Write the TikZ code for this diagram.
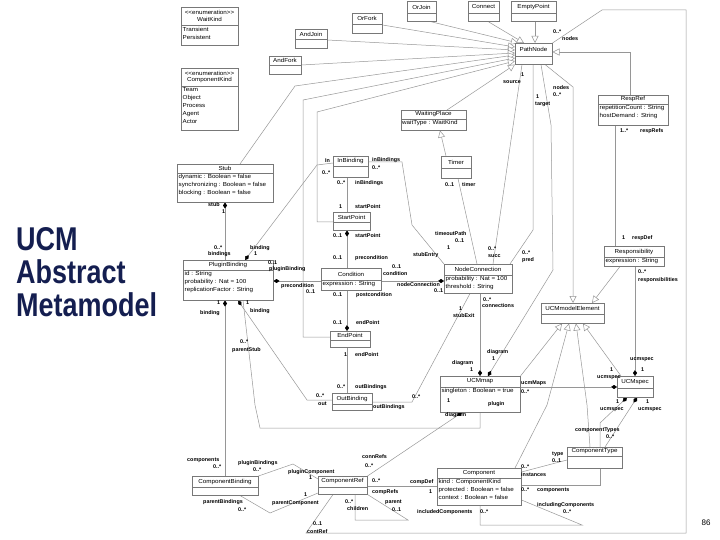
\documentclass[tikz,border=0pt]{standalone}
\usepackage{fontspec}
\setmainfont{Liberation Sans}
\newfontfamily\dfont[FakeStretch=1.08]{Liberation Sans}
\newfontfamily\lfont{Liberation Sans}
\usetikzlibrary{arrows.meta}
\definecolor{boxc}{RGB}{120,120,120}
\definecolor{linec}{RGB}{150,150,150}
\definecolor{titlec}{RGB}{20,30,80}
\pgfdeclarelayer{bg}
\pgfsetlayers{bg,main}
\tikzset{
 cbox/.style={draw=boxc, fill=white, line width=0.5pt, inner sep=0pt},
 cl/.style={draw=boxc, line width=0.5pt},
 hdr/.style={font=\dfont\fontsize{5.8}{6.6}\selectfont, inner sep=0pt, align=center},
 att/.style={font=\dfont\fontsize{5.8}{8}\selectfont, inner sep=0pt, align=left, anchor=north west},
 lbl/.style={font=\lfont\bfseries\fontsize{5.4}{6}\selectfont, inner sep=0pt, anchor=west},
 ttl/.style={font=\fontsize{27}{27}\selectfont\bfseries, text=titlec, anchor=base west, inner sep=0pt},
 con/.style={draw=linec, line width=0.5pt},
 gen/.style={con, -{Triangle[open, length=7pt, width=7pt, fill=white]}},
 comp/.style={con, {Diamond[length=6pt, width=4pt, fill=black, color=black]}-},
}
\newcounter{lbc}
\newcommand\lb[3]{\stepcounter{lbc}\node[lbl] (lb\arabic{lbc}) at (#1,#2) {#3};}
\newcommand\umlbox[7]{%
 \node[cbox, anchor=north west, minimum width={(#4-#2)*1pt}, minimum height={(#5-#3)*1pt}] (#1) at (#2,#3) {};
 \draw[cl] (#2,#6) -- (#4,#6);
 \node[hdr] (#1-h) at ({(#2+#4)/2},{(#3+#6)/2}) {#7};
}
\newcommand\attrs[4]{\node[att] (#1-a) at (#2,#3+0.8) {#4};}
\begin{document}
\begin{tikzpicture}[x=1pt,y=-1pt]
\useasboundingbox (0,0) rectangle (720,540);
% title
\node[ttl] (title1) at (16,250) {\scalebox{1}[1.22]{UCM}};
\node[ttl] (title2) at (16,283) {\scalebox{1}[1.22]{Abstract}};
\node[ttl] (title3) at (16,316) {\scalebox{1}[1.22]{Metamodel}};
\node[font=\fontsize{8}{9}\selectfont, inner sep=0pt] (pageno) at (706,523) {86};

% boxes
\umlbox{WaitKind}{181}{7}{238}{45}{25}{<<enumeration>>\\WaitKind}
\attrs{WaitKind}{182.5}{26}{Transient\\Persistent}
\umlbox{ComponentKind}{181}{68}{238}{130}{86}{<<enumeration>>\\ComponentKind}
\attrs{ComponentKind}{182.5}{86.5}{Team\\Object\\Process\\Agent\\Actor}
\umlbox{AndJoin}{295}{29}{327}{48}{39}{AndJoin}
\umlbox{AndFork}{269}{56}{301}{74}{65}{AndFork}
\umlbox{OrFork}{352}{13}{382}{33}{24}{OrFork}
\umlbox{OrJoin}{407}{1}{436}{21}{13}{OrJoin}
\umlbox{Connect}{468}{1}{499}{21}{13}{Connect}
\umlbox{EmptyPoint}{511}{1}{556}{21}{13}{EmptyPoint}
\umlbox{PathNode}{515}{43}{552}{64}{56}{PathNode}
\umlbox{WaitingPlace}{401}{110}{466}{130}{119}{WaitingPlace}
\attrs{WaitingPlace}{402}{119.5}{waitType : WaitKind}
\umlbox{Timer}{441}{156}{471}{178}{168}{Timer}
\umlbox{RespRef}{598}{95}{668}{125}{104}{RespRef}
\attrs{RespRef}{599.5}{104.5}{repetitionCount : String\\hostDemand : String}
\umlbox{Stub}{177}{164}{273}{202}{173}{Stub}
\attrs{Stub}{178.5}{173.5}{dynamic : Boolean = false\\synchronizing : Boolean = false\\blocking : Boolean = false}
\umlbox{InBinding}{333}{156}{368}{177}{166}{InBinding}
\umlbox{StartPoint}{333}{212}{370}{230}{222}{StartPoint}
\umlbox{PluginBinding}{183}{260}{273}{300}{270}{PluginBinding}
\attrs{PluginBinding}{184.5}{270.5}{id : String\\probability : Nat = 100\\replicationFactor : String}
\umlbox{Condition}{321}{268}{381}{290}{280}{Condition}
\attrs{Condition}{322.5}{280.5}{expression : String}
\umlbox{NodeConnection}{444}{264}{512}{293}{275}{NodeConnection}
\attrs{NodeConnection}{445.5}{275.5}{probability : Nat = 100\\threshold : String}
\umlbox{EndPoint}{330}{331}{370}{347}{340}{EndPoint}
\umlbox{UCMmodelElement}{541}{303}{604}{323}{314}{UCMmodelElement}
\umlbox{Responsibility}{604}{246}{664}{266}{257}{Responsibility}
\attrs{Responsibility}{605.5}{257}{expression : String}
\umlbox{OutBinding}{332}{393}{372}{410}{404}{OutBinding}
\umlbox{UCMmap}{440}{376}{520}{412}{387}{UCMmap}
\attrs{UCMmap}{441.5}{387}{singleton : Boolean = true}
\umlbox{UCMspec}{617}{376}{653}{397}{388}{UCMspec}
\umlbox{ComponentType}{567}{447}{622}{468}{456}{ComponentType}
\umlbox{Component}{437}{468}{521}{505}{478}{Component}
\attrs{Component}{438.5}{478}{kind : ComponentKind\\protected : Boolean = false\\context : Boolean = false}
\umlbox{ComponentRef}{318}{476}{367}{494}{487}{ComponentRef}
\umlbox{ComponentBinding}{192}{476}{258}{495}{487}{ComponentBinding}

\begin{pgfonlayer}{bg}
% generalizations to PathNode
\draw[gen] (OrJoin.south -| 430,0) -- (PathNode.north -| 518,0);
\draw[gen] (Connect.south -| 488,0) -- (PathNode.north -| 524,0);
\draw[gen] (EmptyPoint.south -| 535,0) -- (PathNode.north -| 535,0);
\draw[gen] (OrFork.east |- 0,25) -- (PathNode.west |- 0,47);
\draw[gen] (AndJoin.east |- 0,40) -- (PathNode.west |- 0,50);
\draw[gen] (AndFork.east |- 0,65) -- (PathNode.west |- 0,53);
\draw[gen] (Stub.north -| 240,0) -- (295,86) -- (PathNode.west |- 0,55);
\draw[gen] (EndPoint.west |- 0,337) -- (303,337) -- (303,100) -- (PathNode.west |- 0,58);
\draw[gen] (StartPoint.west |- 0,222) -- (317,222) -- (317,112) -- (PathNode.west |- 0,61);
\draw[gen] (WaitingPlace.north -| 447,0) -- (PathNode.south west);
\draw[gen] (Timer.north -| 446,0) -- (WaitingPlace.south -| 440,0);
\draw[gen] (RespRef.north -| 630,0) -- (630,52) -- (PathNode.east |- 0,52);
% generalizations to UCMmodelElement
\draw[gen] (PathNode.south -| 545,0) -- (573,87) -- (UCMmodelElement.north -| 573,0);
\draw[gen] (Responsibility.south -| 620,0) -- (UCMmodelElement.north -| 592,0);
\draw[gen] (UCMmap.north east) -- (UCMmodelElement.south -| 562,0);
\draw[gen] (Component.north -| 515,0) -- (547,405) -- (UCMmodelElement.south -| 569,0);
\draw[gen] (ComponentType.north -| 590,0) -- (587,405) -- (UCMmodelElement.south -| 576,0);
\draw[gen] (UCMspec.north -| 621,0) -- (UCMmodelElement.south -| 583,0);
% associations
\draw[con] (ComponentRef.south -| 333,0) -- (306,533) -- (686,533) -- (686,10) -- (602,10) -- (PathNode.north east);
\draw[con] (PathNode.south -| 522,0) -- (NodeConnection.north -| 493,0);
\draw[con] (PathNode.south -| 533,0) -- (533,230) -- (NodeConnection.north -| 510,0);
\draw[comp] (UCMmap.north -| 488,0) -- (553,270) -- (551,125) -- (PathNode.south -| 541,0);
\draw[comp] (UCMmap.north -| 480,0) -- (NodeConnection.south -| 480,0);
\draw[con] (Timer.south -| 458,0) -- (NodeConnection.north -| 477,0);
\draw[con] (InBinding.east |- 0,162) -- (402,162) -- (412,225) -- (NodeConnection.north west);
\draw[con] (NodeConnection.south -| 470,0) -- (412,402) -- (OutBinding.east |- 0,402);
\draw[comp] (NodeConnection.west |- 0,281) -- (Condition.east |- 0,281);
\draw[comp] (PluginBinding.east |- 0,281) -- (Condition.west |- 0,281);
\draw[comp] (StartPoint.south -| 347,0) -- (Condition.north -| 347,0);
\draw[comp] (EndPoint.north -| 347,0) -- (Condition.south -| 347,0);
\draw[con] (InBinding.south -| 347,0) -- (StartPoint.north -| 347,0);
\draw[con] (EndPoint.south -| 347,0) -- (OutBinding.north -| 347,0);
\draw[comp] (Stub.south -| 225,0) -- (PluginBinding.north -| 225,0);
\draw[comp] (PluginBinding.north -| 245,0) -- (317,165) -- (InBinding.west |- 0,163);
\draw[comp] (PluginBinding.south -| 238,0) -- (307,400) -- (OutBinding.west |- 0,400);
\draw[comp] (PluginBinding.south -| 225,0) -- (ComponentBinding.north -| 225,0);
\draw[con] (PluginBinding.south -| 243,0) -- (255,405) -- (260,428) -- (480,428) -- (UCMmap.south -| 480,0);
\draw[comp] (UCMmap.south -| 462,0) -- (ComponentRef.north east);
\draw[con] (ComponentBinding.north east) -- (293,464) -- (ComponentRef.west |- 0,479);
\draw[con] (ComponentBinding.south -| 240,0) -- (270,513) -- (ComponentRef.west |- 0,493);
\draw[con] (ComponentRef.east |- 0,486) -- (Component.west |- 0,486);
\draw[con] (ComponentRef.south -| 355,0) -- (355,520) -- (408,520) -- (ComponentRef.south east);
\draw[con] (Component.south -| 480,0) -- (480,525) -- (582,525) -- (Component.east |- 0,500);
\draw[con] (Component.east |- 0,472) -- (ComponentType.west |- 0,460);
\draw[comp] (UCMspec.south -| 627,0) -- (600,423) -- (600,447);
\draw[con] (ComponentType.south -| 600,0) -- (600,485) -- (Component.east |- 0,485);
\draw[comp] (UCMspec.south -| 637,0) -- (ComponentType.north -| 605,0);
\draw[comp] (UCMspec.west |- 0,387) -- (UCMmap.east |- 0,387);
\draw[comp] (UCMspec.north -| 635,0) -- (Responsibility.south -| 635,0);
\draw[con] (Responsibility.north -| 615,0) -- (RespRef.south -| 615,0);
\end{pgfonlayer}

% labels
\lb{553}{32}{0..*}\lb{562}{39}{nodes}
\lb{521}{75}{1}\lb{503}{82}{source}
\lb{536}{97}{1}\lb{535}{104}{target}
\lb{553}{88}{nodes}\lb{553}{95}{0..*}
\lb{620}{131}{1..*}\lb{640}{131}{respRefs}
\lb{622}{238}{1}\lb{632}{238}{respDef}
\lb{638}{272}{0..*}\lb{638}{280}{responsibilities}
\lb{208}{205}{stub}\lb{222}{212}{1}
\lb{214}{248}{0..*}\lb{208}{254}{bindings}
\lb{250}{248}{binding}\lb{254}{254}{1}
\lb{325}{161}{In}\lb{322}{173}{0..*}
\lb{372}{160}{inBindings}\lb{372}{168}{0..*}
\lb{337}{183}{0..*}\lb{355}{183}{inBindings}
\lb{339}{207}{1}\lb{355}{207}{startPoint}
\lb{333}{236}{0..1}\lb{355}{236}{startPoint}
\lb{333}{258}{0..1}\lb{355}{258}{precondition}
\lb{392}{267}{0..1}\lb{383}{274}{condition}
\lb{397}{285}{nodeConnection}\lb{434}{291}{0..1}
\lb{268}{263}{0..1}\lb{269}{269}{pluginBinding}
\lb{281}{286}{precondition}\lb{306}{292}{0..1}
\lb{333}{295}{0..1}\lb{356}{295}{postcondition}
\lb{333}{323}{0..1}\lb{356}{323}{endPoint}
\lb{344}{355}{1}\lb{355}{355}{endPoint}
\lb{337}{387}{0..*}\lb{355}{387}{outBindings}
\lb{412}{397}{0..*}\lb{373}{407}{outBindings}
\lb{316}{396}{0..*}\lb{318}{404}{out}
\lb{435}{234}{timeoutPath}\lb{455}{241}{0..1}
\lb{445}{185}{0..1}\lb{462}{185}{timer}
\lb{447}{248}{1}\lb{413}{255}{stubEntry}
\lb{488}{249}{0..*}\lb{488}{256}{succ}
\lb{522}{253}{0..*}\lb{522}{260}{pred}
\lb{459}{309}{1}\lb{453}{316}{stubExit}
\lb{483}{300}{0..*}\lb{482}{306}{connections}
\lb{487}{352}{diagram}\lb{492}{359}{1}
\lb{452}{363}{diagram}\lb{470}{370}{1}
\lb{447}{401}{1}\lb{488}{404}{plugin}
\lb{445}{415}{diagram}
\lb{521}{383}{ucmMaps}\lb{521}{392}{0..*}
\lb{610}{370}{1}\lb{597}{378}{ucmspec}
\lb{630}{360}{ucmspec}\lb{641}{370}{1}
\lb{616}{402}{1}\lb{646}{402}{1}
\lb{600}{410}{ucmspec}\lb{638}{410}{ucmspec}
\lb{575}{430}{componentTypes}\lb{606}{437}{0..*}
\lb{552}{454}{type}\lb{552}{461}{0..1}
\lb{521}{467}{0..*}\lb{521}{475}{instances}
\lb{521}{490}{0..*}\lb{537}{490}{components}
\lb{537}{505}{includingComponents}\lb{563}{512}{0..*}
\lb{417}{512}{includedComponents}\lb{480}{512}{0..*}
\lb{217}{303}{1}\lb{200}{313}{binding}
\lb{246}{303}{1}\lb{250}{311}{binding}
\lb{240}{342}{0..*}\lb{232}{350}{parentStub}
\lb{187}{460}{components}\lb{213}{467}{0..*}
\lb{238}{463}{pluginBindings}\lb{253}{470}{0..*}
\lb{288}{472}{pluginComponent}\lb{309}{478}{1}
\lb{203}{502}{parentBindings}\lb{238}{510}{0..*}
\lb{304}{495}{1}\lb{272}{503}{parentComponent}
\lb{313}{524}{0..1}\lb{307}{532}{contRef}
\lb{362}{457}{connRefs}\lb{365}{466}{0..*}
\lb{372}{481}{0..*}\lb{372}{492}{compRefs}
\lb{410}{482}{compDef}\lb{429}{492}{1}
\lb{345}{502}{0..*}\lb{347}{509}{children}
\lb{385}{502}{parent}\lb{392}{510}{0..1}
\end{tikzpicture}
\end{document}
